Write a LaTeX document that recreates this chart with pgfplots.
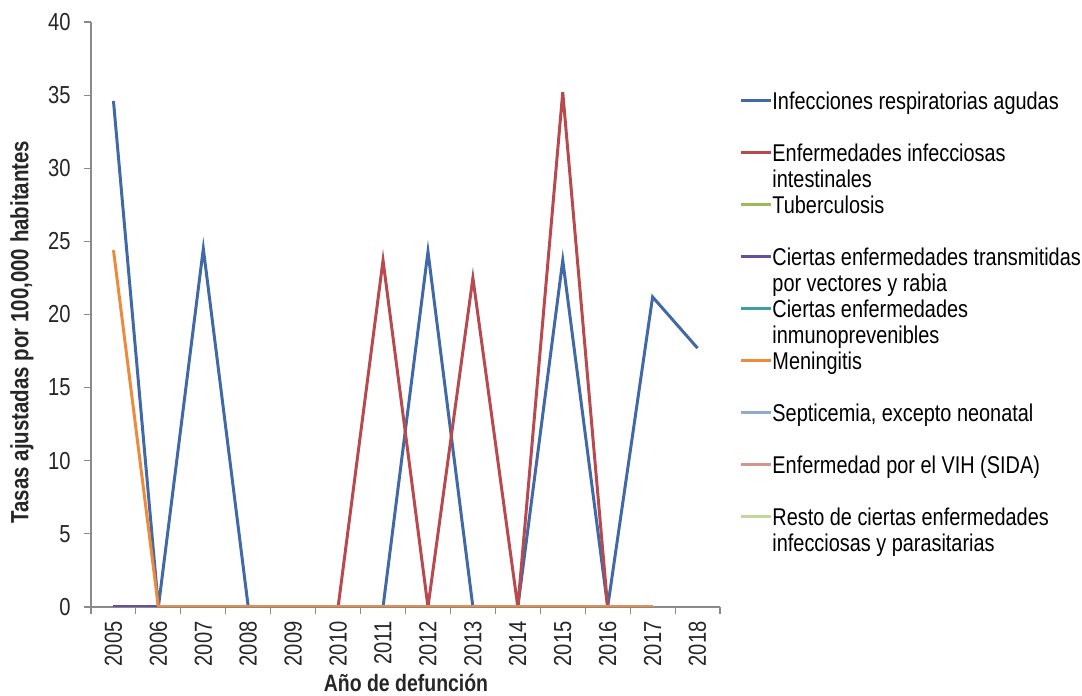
\documentclass[border=0pt]{standalone}
\usepackage{pgfplots}
\pgfplotsset{compat=1.18}
\usepackage{fontspec}
\setmainfont{Liberation Sans}[FakeStretch=0.82]

\definecolor{cIRA}{HTML}{4169A5}
\definecolor{cEII}{HTML}{B84A4F}
\definecolor{cTub}{HTML}{9BBB59}
\definecolor{cVec}{HTML}{65509A}
\definecolor{cInm}{HTML}{3F9F9F}
\definecolor{cMen}{HTML}{EE8A3C}
\definecolor{cSep}{HTML}{93A9CF}
\definecolor{cVIH}{HTML}{D3968F}
\definecolor{cRes}{HTML}{C3D69B}
\definecolor{axgray}{HTML}{8A8A8A}

% legend text, first line on the row baseline
\newcommand{\lent}[1]{\parbox[t]{6.6cm}{\fontsize{13.8}{14.8}\selectfont\strut #1\strut}}

\begin{document}
\begin{tikzpicture}
\useasboundingbox (0,0) rectangle (21.64cm,13.92cm);
\begin{axis}[
  at={(1.82cm,1.78cm)}, anchor=south west,
  scale only axis, width=12.58cm, height=11.70cm,
  xmin=2004.5, xmax=2018.5, ymin=0, ymax=40,
  axis x line*=bottom, axis y line*=left,
  axis line style={-, draw=axgray, line width=0.6pt},
  xtick={2005,...,2018},
  minor xtick={2004.5,2005.5,...,2018.5},
  major x tick style={draw=none},
  minor x tick style={draw=axgray, line width=0.6pt},
  ytick={0,5,...,40},
  y tick style={draw=axgray, line width=0.6pt},
  tick align=outside, major tick length=0.14cm, minor tick length=0.14cm,
  /pgf/number format/assume math mode=true,
  /pgf/number format/1000 sep={},
  tick label style={font=\fontsize{14}{16}\selectfont, text=black!85},
  xticklabel style={rotate=90, anchor=east, inner sep=0pt},
  xticklabel shift=0.14cm,
  yticklabel style={anchor=east, inner sep=0pt},
  yticklabel shift=0.26cm,
  xlabel={Año de defunción},
  ylabel={Tasas ajustadas por 100,000 habitantes},
  label style={text=black!85},
  xlabel style={font=\bfseries\fontsize{13.5}{15}\selectfont, at={(axis description cs:0.5008,-0.1299)}, anchor=center},
  ylabel style={font=\bfseries\fontsize{14.2}{16}\selectfont, at={(axis description cs:-0.1097,0.470)}, anchor=center},
  legend style={at={(axis description cs:1.0318,0.8820)}, anchor=north west,
    draw=none, fill=none, inner sep=0pt, outer sep=0pt,
    row sep=0pt, column sep=0pt,
    nodes={inner sep=0pt, outer sep=0pt},
    cells={anchor=base west, inner sep=0pt, outer sep=0pt}},
  % the invisible path gives every legend row the height of two text lines
  legend image code/.code={%
    \path[draw=none, fill=none] (0cm,-0.676cm) rectangle (0.6cm,0.364cm);
    \draw[#1, line width=1.4pt] (0cm,0.177cm) -- (0.6cm,0.177cm);},
  every axis plot/.append style={line width=1.7pt, line join=miter, mark=none},
]
% series drawn in this order, legend added after
\addplot[cTub, forget plot] coordinates {(2006,0)(2007,0)(2008,0)(2009,0)(2010,0)(2011,0)(2012,0)(2013,0)(2014,0)(2015,0)(2016,0)(2017,0)};
\addplot[cInm, forget plot] coordinates {(2006,0)(2007,0)(2008,0)(2009,0)(2010,0)(2011,0)(2012,0)(2013,0)(2014,0)(2015,0)(2016,0)(2017,0)};
\addplot[cSep, forget plot] coordinates {(2006,0)(2007,0)(2008,0)(2009,0)(2010,0)(2011,0)(2012,0)(2013,0)(2014,0)(2015,0)(2016,0)(2017,0)};
\addplot[cRes, forget plot] coordinates {(2006,0)(2007,0)(2008,0)(2009,0)(2010,0)(2011,0)(2012,0)(2013,0)(2014,0)(2015,0)(2016,0)(2017,0)};
\addplot[cIRA, forget plot] coordinates {(2005,34.6)(2006,0)(2007,24.5)(2008,0)(2009,0)(2010,0)(2011,0)(2012,24.3)(2013,0)(2014,0)(2015,23.7)(2016,0)(2017,21.2)(2018,17.7)};
\addplot[cEII, forget plot] coordinates {(2005,0)(2006,0)(2007,0)(2008,0)(2009,0)(2010,0)(2011,23.7)(2012,0)(2013,22.5)(2014,0)(2015,35.2)(2016,0)(2017,0)};
\addplot[cVec, forget plot] coordinates {(2005,0)(2006,0)};
\addplot[cVIH, forget plot] coordinates {(2006,0)(2007,0)(2008,0)(2009,0)(2010,0)(2011,0)(2012,0)(2013,0)(2014,0)(2015,0)(2016,0)(2017,0)};
\addplot[cMen, forget plot] coordinates {(2005,24.4)(2006,0)(2007,0)(2008,0)(2009,0)(2010,0)(2011,0)(2012,0)(2013,0)(2014,0)(2015,0)(2016,0)(2017,0)};

\addlegendimage{cIRA}\addlegendentry{\lent{Infecciones respiratorias agudas}}
\addlegendimage{cEII}\addlegendentry{\lent{Enfermedades infecciosas\newline intestinales}}
\addlegendimage{cTub}\addlegendentry{\lent{Tuberculosis}}
\addlegendimage{cVec}\addlegendentry{\lent{Ciertas enfermedades transmitidas\newline por vectores y rabia}}
\addlegendimage{cInm}\addlegendentry{\lent{Ciertas enfermedades\newline inmunoprevenibles}}
\addlegendimage{cMen}\addlegendentry{\lent{Meningitis}}
\addlegendimage{cSep}\addlegendentry{\lent{Septicemia, excepto neonatal}}
\addlegendimage{cVIH}\addlegendentry{\lent{Enfermedad por el VIH (SIDA)}}
\addlegendimage{cRes}\addlegendentry{\lent{Resto de ciertas enfermedades\newline infecciosas y parasitarias}}
\end{axis}
\end{tikzpicture}
\end{document}
